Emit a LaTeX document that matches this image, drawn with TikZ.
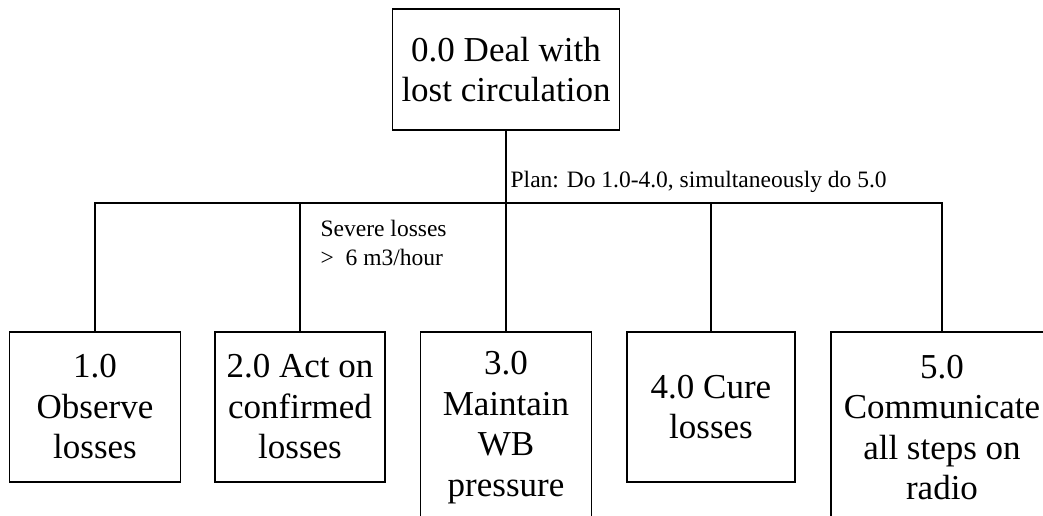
\documentclass[tikz,border=0pt]{standalone}
\usepackage{fontspec}
\setmainfont{Liberation Serif}

\begin{document}
\begin{tikzpicture}[x=1pt, y=-1pt, line width=1.3pt,
		task/.style={draw, align=center, inner sep=0pt, font=\fontsize{35}{40.5}\selectfont},
		note/.style={align=left, inner sep=0pt, font=\fontsize{23.5}{29}\selectfont}]
		\useasboundingbox (0,0) rectangle (1043,515);

		% top task
		\node [task, minimum width=227pt, minimum height=121pt] (t0) at (506, 69.5) {0.0 Deal with\\lost circulation};

		% sub tasks (3.0 and 5.0 run past the lower edge)
		\node [task, minimum width=171pt, minimum height=150pt] (t1) at (95, 407) {1.0\\Observe\\losses};
		\node [task, minimum width=170pt, minimum height=150pt] (t2) at (300, 407) {2.0 Act on\\confirmed\\losses};
		\node [task, minimum width=171pt, minimum height=191pt] (t3) at (506, 427.5) {3.0\\Maintain\\WB\\pressure};
		\node [task, minimum width=168pt, minimum height=150pt] (t4) at (711, 407) {4.0 Cure\\losses};
		\node [task, minimum width=222pt, minimum height=191pt] (t5) at (942, 427.5) {5.0\\Communicate\\all steps on\\radio};

		% tree lines
		\coordinate (bus) at (506, 203);
		\draw (t0.south) -- (bus);
		\foreach \t in {t1,t2,t3,t4,t5}
			\draw (bus) -| (\t.north);

		% plan and condition
		\node [note, anchor=base west] (plan) at (510, 187) {Plan: Do 1.0-4.0, simultaneously do 5.0};
		\node [note, anchor=north west] (severe) at (320, 220) {Severe losses\\>\ \ 6 m3/hour};
	\end{tikzpicture}
\end{document}
